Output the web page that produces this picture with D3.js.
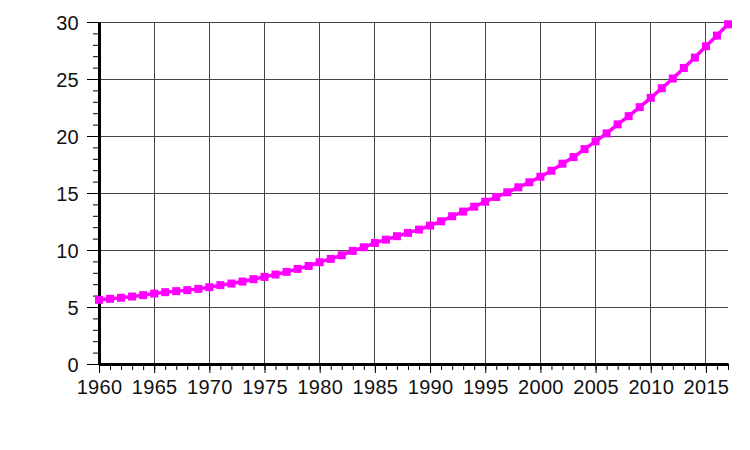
<!DOCTYPE html>
<html>
<head>
<meta charset="utf-8">
<script src="https://cdn.jsdelivr.net/npm/d3@7"></script>
<style>
  body { margin: 0; background: #fff; }
  svg { display: block; font-family: "Liberation Sans", Arial, sans-serif; }
</style>
</head>
<body>
<svg width="750" height="450"></svg>
<script>
// years and values
var years = d3.range(1960, 2018);
var values = [
  5.63, 5.72, 5.81, 5.92, 6.04, 6.18, 6.30, 6.39, 6.48, 6.59,
  6.74, 6.92, 7.06, 7.23, 7.44, 7.64, 7.85, 8.08, 8.34, 8.60,
  8.93, 9.22, 9.54, 9.92, 10.24, 10.62, 10.91, 11.21, 11.50, 11.79,
  12.14, 12.52, 12.96, 13.37, 13.80, 14.24, 14.65, 15.06, 15.50, 15.94,
  16.43, 16.95, 17.57, 18.15, 18.85, 19.53, 20.23, 21.02, 21.74, 22.53,
  23.35, 24.19, 25.04, 25.97, 26.88, 27.87, 28.81, 29.80
];
var xTicks = [1960, 1965, 1970, 1975, 1980, 1985, 1990, 1995, 2000, 2005, 2010, 2015];
var yTicks = [0, 5, 10, 15, 20, 25, 30];

var data = years.map(function(y, i) { return {year: y, value: values[i]}; });

var svg = d3.select("svg");
var x = d3.scaleLinear().domain([1960, 2017]).range([99, 728]);
var y = d3.scaleLinear().domain([0, 30]).range([364, 22]);

// grid
var grid = svg.append("g").attr("stroke", "#444").attr("stroke-width", 1).attr("shape-rendering", "crispEdges");
grid.selectAll(".vg").data(xTicks.slice(1)).enter().append("line")
    .attr("x1", function(d) { return x(d); }).attr("x2", function(d) { return x(d); })
    .attr("y1", y(30)).attr("y2", y(0));
grid.selectAll(".hg").data(yTicks.slice(1)).enter().append("line")
    .attr("x1", x(1960)).attr("x2", x(2017))
    .attr("y1", function(d) { return y(d); }).attr("y2", function(d) { return y(d); });

// minor ticks
svg.append("g")
   .attr("transform", "translate(0," + y(0) + ")")
   .call(d3.axisBottom(x).tickValues(years).tickSize(6).tickFormat(""))
   .call(function(g) { g.select(".domain").remove(); });
svg.append("g")
   .attr("transform", "translate(" + x(1960) + ",0)")
   .call(d3.axisLeft(y).tickValues(d3.range(0, 31)).tickSize(6).tickFormat(""))
   .call(function(g) { g.select(".domain").remove(); });

// major axes
var xAxis = svg.append("g")
   .attr("transform", "translate(0," + y(0) + ")")
   .call(d3.axisBottom(x).tickValues(xTicks).tickSize(9).tickSizeOuter(0).tickFormat(d3.format("d")));
xAxis.selectAll("text").attr("dy", "0").attr("y", 30);

var yAxis = svg.append("g")
   .attr("transform", "translate(" + x(1960) + ",0)")
   .call(d3.axisLeft(y).tickValues(yTicks).tickSize(12).tickSizeOuter(0));
yAxis.selectAll("text").attr("x", -20).attr("dy", "0.36em");

svg.selectAll(".tick text")
   .style("font-family", "'Liberation Sans', Arial, sans-serif")
   .style("font-size", "20px")
   .style("letter-spacing", "0.3px")
   .attr("fill", "#111");
svg.selectAll(".domain").attr("stroke", "#000").attr("stroke-width", 3);

// line + markers
var line = d3.line().x(function(d) { return x(d.year); }).y(function(d) { return y(d.value); });
svg.append("path").datum(data)
   .attr("d", line)
   .attr("fill", "none")
   .attr("stroke", "#ff00ff")
   .attr("stroke-width", 3.5);

svg.selectAll(".pt").data(data).enter().append("rect")
   .attr("x", function(d) { return x(d.year) - 4; })
   .attr("y", function(d) { return y(d.value) - 4; })
   .attr("width", 8).attr("height", 8)
   .attr("fill", "#ff00ff");
</script>
</body>
</html>
